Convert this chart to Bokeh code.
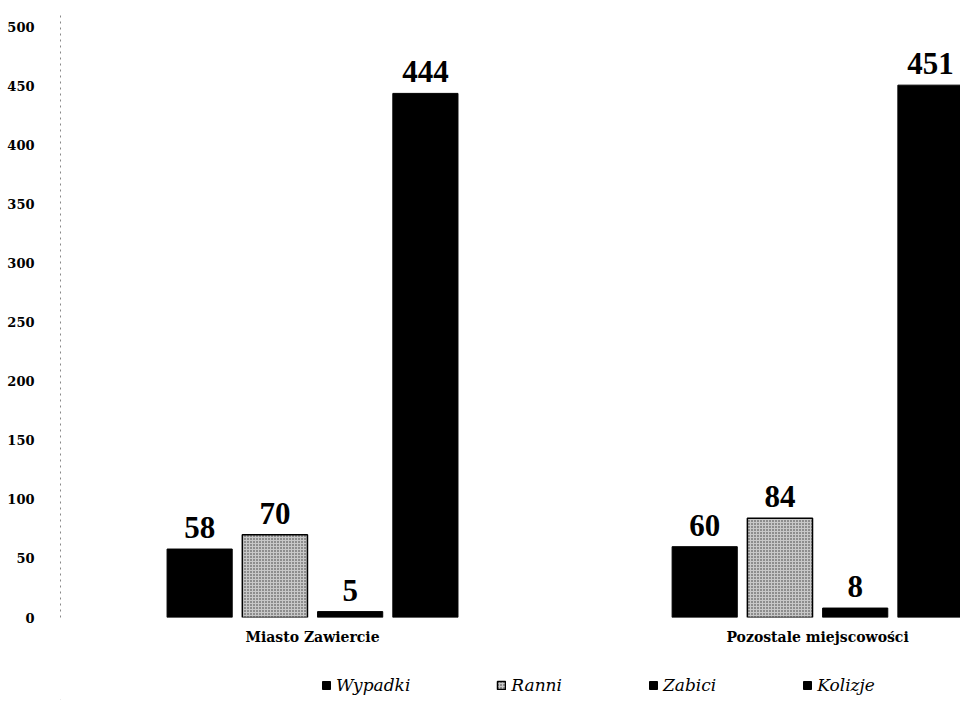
from bokeh.plotting import figure
from bokeh.layouts import column
from bokeh.models import (ColumnDataSource, Range1d, FixedTicker, LabelSet,
                          Legend, LegendItem)
from bokeh.embed import file_html
from bokeh.resources import INLINE

# ---- data ----
groups = ["Miasto Zawiercie", "Pozostale miejscowości"]
series = ["Wypadki", "Ranni", "Zabici", "Kolizje"]
wypadki = [58, 60]
ranni = [70, 84]
zabici = [5, 8]
kolizje = [444, 451]
y_ticks = [0, 50, 100, 150, 200, 250, 300, 350, 400, 450, 500]

values = [wypadki, ranni, zabici, kolizje]
offsets = [-0.2235, -0.0745, 0.0745, 0.2235]
bar_w = 0.129
SERIF = "DejaVu Serif"

p = figure(width=960, height=668, output_backend="svg", toolbar_location=None,
           x_range=Range1d(-0.499, 1.283), y_range=Range1d(0, 510),
           min_border_left=60, min_border_right=0, min_border_top=15,
           min_border_bottom=51)
p.outline_line_color = None
p.xgrid.visible = False
p.ygrid.visible = False

styles = [
    dict(fill_color="black", line_color="black"),
    dict(fill_color="#c8c8c8", line_color="black", line_width=1.5,
         hatch_pattern="dot", hatch_color="#333333", hatch_scale=3, hatch_weight=1),
    dict(fill_color="black", line_color="black"),
    dict(fill_color="black", line_color="black"),
]

for name, vals, off, st in zip(series, values, offsets, styles):
    src = ColumnDataSource(dict(
        x=[i + off for i in range(len(groups))],
        top=vals,
        lab=[str(v) for v in vals],
    ))
    p.vbar(x="x", top="top", width=bar_w, source=src, **st)
    p.add_layout(LabelSet(x="x", y="top", text="lab", source=src,
                          text_align="center", text_baseline="bottom",
                          y_offset=11, text_font=SERIF, text_font_style="bold",
                          text_font_size="31px", text_color="black"))

# y axis
p.yaxis.ticker = FixedTicker(ticks=y_ticks)
p.yaxis.major_tick_line_color = None
p.yaxis.minor_tick_line_color = None
p.yaxis.axis_line_color = "#888888"
p.yaxis.axis_line_dash = "dotted"
p.yaxis.major_label_standoff = 20
p.yaxis.major_label_text_font = SERIF
p.yaxis.major_label_text_font_style = "bold"
p.yaxis.major_label_text_font_size = "13px"
p.yaxis.major_label_text_color = "black"

# x axis
p.xaxis.ticker = FixedTicker(ticks=list(range(len(groups))))
p.xaxis.major_label_overrides = {i: g for i, g in enumerate(groups)}
p.xaxis.axis_line_color = None
p.xaxis.major_tick_line_color = None
p.xaxis.minor_tick_line_color = None
p.xaxis.major_label_standoff = 5
p.xaxis.major_label_text_font = SERIF
p.xaxis.major_label_text_font_style = "bold"
p.xaxis.major_label_text_font_size = "14px"
p.xaxis.major_label_text_color = "black"

# legend strip (separate small figure so the legend is not clipped)
lg = figure(width=960, height=32, output_backend="svg", toolbar_location=None,
            x_range=Range1d(0, 1), y_range=Range1d(0, 1),
            min_border_left=0, min_border_right=0, min_border_top=0,
            min_border_bottom=0)
lg.axis.visible = False
lg.grid.visible = False
lg.outline_line_color = None
items = []
for name, st in zip(series, styles):
    # off-range proxy renderer: only supplies the legend swatch style
    r = lg.vbar(x=[-5], top=[-5], bottom=[-6], width=0.1, **st)
    items.append(LegendItem(label=name, renderers=[r]))
legend = Legend(items=items, orientation="horizontal", location=(261, 5),
                border_line_color=None, background_fill_alpha=0,
                label_text_font=SERIF, label_text_font_style="italic",
                label_text_font_size="17px", label_text_color="black",
                glyph_width=10, glyph_height=10,
                label_standoff=5, spacing=86, padding=2, margin=0)
lg.add_layout(legend, "center")

layout = column(p, lg, spacing=0)
open("out.html", "w").write(file_html(layout, INLINE))
